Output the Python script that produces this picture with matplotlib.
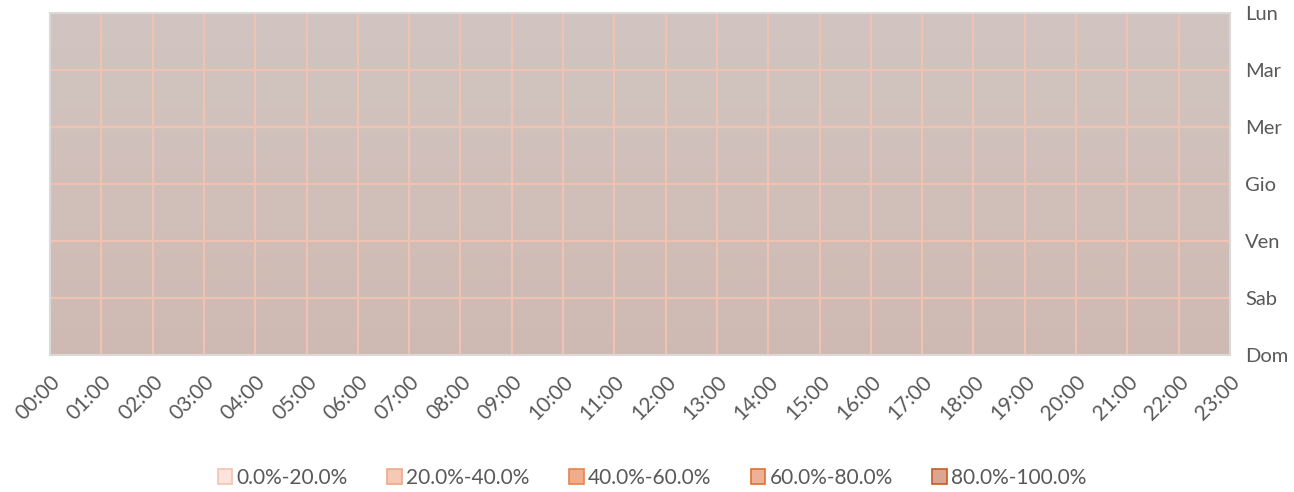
import numpy as np
import matplotlib
matplotlib.use("Agg")
import matplotlib.pyplot as plt
from matplotlib.patches import Patch
from matplotlib.colors import LinearSegmentedColormap

hours = [f"{h:02d}:00" for h in range(24)]
days = ["Lun", "Mar", "Mer", "Gio", "Ven", "Sab", "Dom"]
# occupancy share per day (rows) and hour (columns) - all in lowest band
values = np.zeros((len(days), len(hours)))
levels = [0.0, 0.2, 0.4, 0.6, 0.8, 1.0]
band_labels = ["0.0%-20.0%", "20.0%-40.0%", "40.0%-60.0%", "60.0%-80.0%", "80.0%-100.0%"]
band_fill = ["#fbe4dc", "#f6c9b6", "#f0ad8e", "#eeb196", "#dca58f"]
band_edge = ["#f3c4b2", "#eea88a", "#e6834f", "#e0712c", "#c65c23"]
surface_fill = ["#d0bfb9", "#d6a793", "#d0886a", "#c6703f", "#a8552a"]

plt.rcParams['font.family'] = ['Lato', 'DejaVu Sans']
fig = plt.figure(figsize=(12.94, 4.92), dpi=100)
ax = fig.add_axes([50/1294, 1-355/492, 1180/1294, 342/492])

x = np.arange(len(hours))
y = np.arange(len(days))
ax.contourf(x, y, values, levels=levels, colors=surface_fill, extend='neither')

# subtle vertical shading of the surface
grad = np.linspace(0, 1, 256).reshape(-1, 1)
shade = LinearSegmentedColormap.from_list("sh", [(0.825, 0.78, 0.765, 0.8), (0.81, 0.725, 0.695, 0.8)])
ax.imshow(grad, aspect='auto', cmap=shade, extent=[0, len(hours)-1, len(days)-1, 0], zorder=1)

ax.set_xlim(0, len(hours)-1)
ax.set_ylim(len(days)-1, 0)
ax.set_xticks(x)
ax.set_xticklabels(hours, rotation=45, ha='right', va='top', rotation_mode='anchor',
                   fontsize=15, color='#595959')
ax.set_yticks(y)
ax.set_yticklabels(days, fontsize=14.5, color='#595959')
ax.yaxis.tick_right()
ax.tick_params(axis='both', length=0)
ax.tick_params(axis='x', pad=12)
ax.tick_params(axis='y', pad=11)
ax.grid(True, color='#efc2b2', linewidth=1.6, zorder=2)
ax.set_axisbelow(False)
for s in ax.spines.values():
    s.set_color('#d9d9d9')
    s.set_linewidth(1.5)
    s.set_zorder(5)

handles = [Patch(facecolor=f, edgecolor=e, linewidth=1.2, label=l)
           for f, e, l in zip(band_fill, band_edge, band_labels)]
fig.legend(handles=handles, loc='center', bbox_to_anchor=(652/1294, 1-478/492), ncol=5,
           frameon=False, fontsize=15, labelcolor='#595959', handlelength=0.7,
           handleheight=0.7, handletextpad=0.2, columnspacing=1.9)

fig.savefig("out.png", dpi=100)
